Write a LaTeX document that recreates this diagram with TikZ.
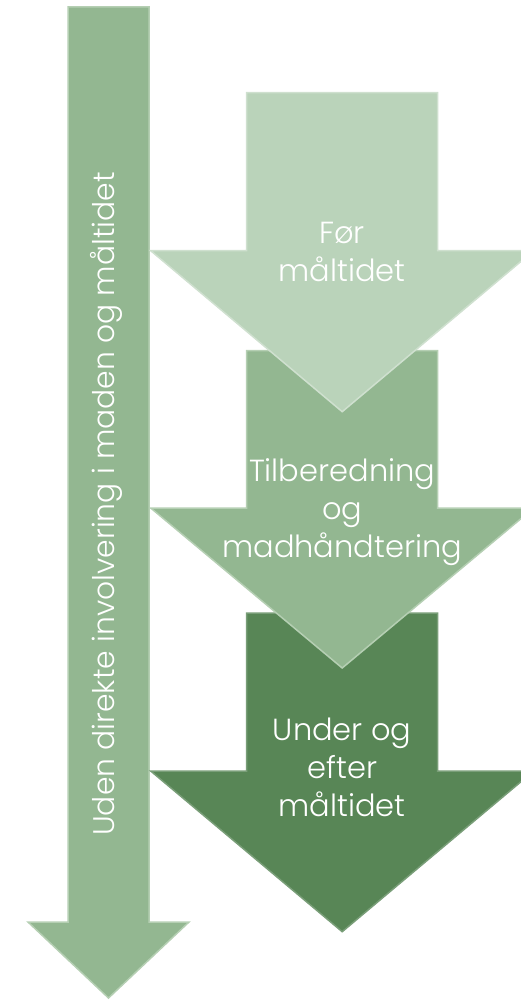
\documentclass[tikz,border=0pt]{standalone}
\usepackage{fontspec}
\IfFontExistsTF{Poppins Light}{\setmainfont{Poppins Light}}{\setmainfont{Poppins}}
\definecolor{lightg}{HTML}{BAD3BA}
\definecolor{midg}{HTML}{93B791}
\definecolor{darkg}{HTML}{588656}
\definecolor{edgeg}{HTML}{B5CFB3}
\tikzset{
  arrowshape/.style={line width=1.5pt, line join=miter},
  lbl/.style={text=white, align=center, font=\fontsize{30.5}{38}\selectfont, inner sep=0pt},
  sidelbl/.style={text=white, font=\fontsize{29.8}{32}\selectfont, inner sep=0pt, rotate=90}
}
% #1 cx, #2 top, #3 shaft half width, #4 head start, #5 head half width, #6 tip
\newcommand\dnarrow[7]{%
  \path[arrowshape,#7] (#1-#3,#2) -- (#1+#3,#2) -- (#1+#3,#4) -- (#1+#5,#4)
    -- (#1,#6) -- (#1-#5,#4) -- (#1-#3,#4) -- cycle;}
\begin{document}
\begin{tikzpicture}[x=1pt,y=-1pt]
\useasboundingbox (0,0) rectangle (521,1000);
\clip (0,0) rectangle (521,1000);
% left long arrow
\dnarrow{108.5}{7}{40.5}{922}{80.5}{998}{fill=midg, draw=edgeg}
\node[sidelbl] (side) at (106.5,504) {Uden direkte involvering i maden og måltidet};
% stage arrows, drawn bottom first
\dnarrow{342.2}{613}{95.5}{771}{191.5}{931.7}{fill=darkg, draw=darkg!80!white}
\dnarrow{342.2}{350.7}{95.5}{508}{191.5}{668}{fill=midg, draw=edgeg}
\dnarrow{342.2}{92.7}{95.5}{250.7}{191.5}{411.7}{fill=lightg, draw=lightg!70!white}
\node[lbl] (s1) at (342.2,252) {Før\\måltidet};
\node[lbl] (s2) at (342.2,512) {Tilberedning\\og\\madhåndtering};
\node[lbl] (s3) at (342.2,767) {Under og\\efter\\måltidet};
\end{tikzpicture}
\end{document}
